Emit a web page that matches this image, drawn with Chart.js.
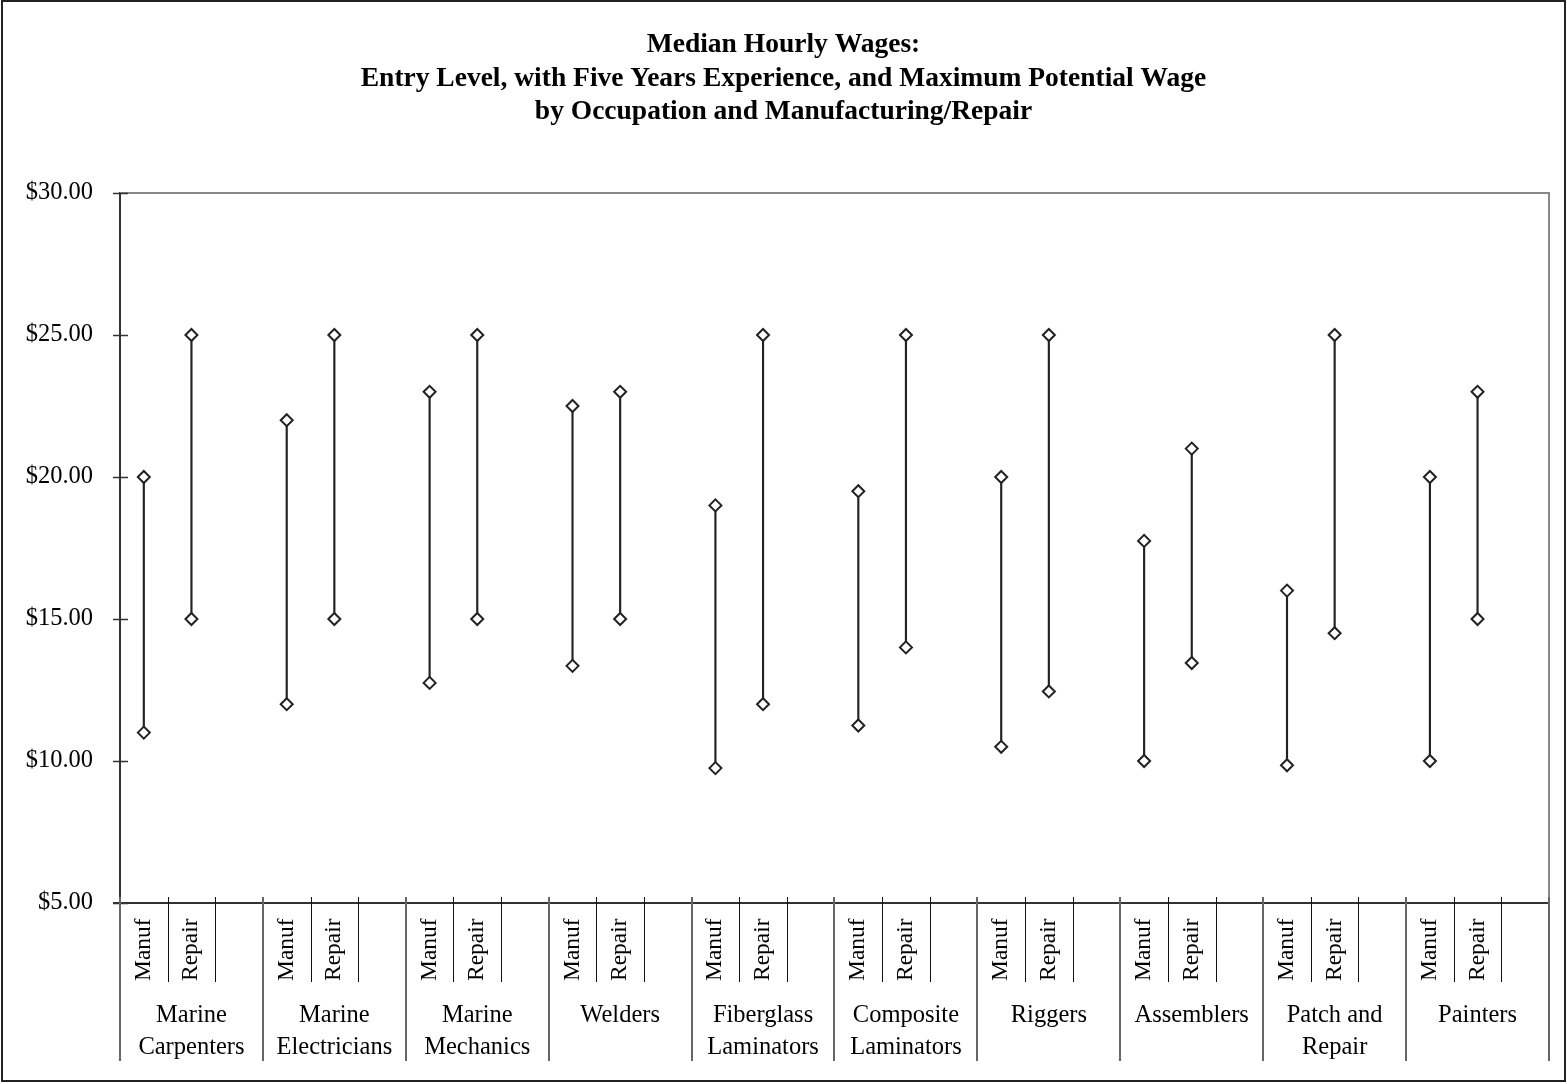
<!DOCTYPE html>
<html>
<head>
<meta charset="utf-8">
<title>Median Hourly Wages</title>
<script src="https://cdn.jsdelivr.net/npm/chart.js@4.4.1/dist/chart.umd.min.js"></script>
<style>
  html, body { margin: 0; padding: 0; background: #fff; }
  #wrap { width: 1567px; height: 1084px; position: relative; }
</style>
</head>
<body>
<div id="wrap"><canvas id="c" width="1567" height="1084"></canvas></div>
<script>
// Occupations (group labels, one entry per line of text)
const occupations = [
  ['Marine', 'Carpenters'],
  ['Marine', 'Electricians'],
  ['Marine', 'Mechanics'],
  ['Welders'],
  ['Fiberglass', 'Laminators'],
  ['Composite', 'Laminators'],
  ['Riggers'],
  ['Assemblers'],
  ['Patch and', 'Repair'],
  ['Painters']
];
const sectors = ['Manuf', 'Repair'];

// Hourly wage ranges ($), low end and high end, per occupation
const manufLow   = [11.00, 12.00, 12.75, 13.35,  9.75, 11.25, 10.50, 10.00,  9.85, 10.00];
const manufHigh  = [20.00, 22.00, 23.00, 22.50, 19.00, 19.50, 20.00, 17.75, 16.00, 20.00];
const repairLow  = [15.00, 15.00, 15.00, 15.00, 12.00, 14.00, 12.45, 13.45, 14.50, 15.00];
const repairHigh = [25.00, 25.00, 25.00, 23.00, 25.00, 25.00, 25.00, 21.00, 25.00, 23.00];

const titleLines = [
  'Median Hourly Wages:',
  'Entry Level, with Five Years Experience, and Maximum Potential Wage',
  'by Occupation and Manufacturing/Repair'
];
const yTicks = [5, 10, 15, 20, 25, 30];

// Each occupation takes three slots: Manuf, Repair, and an empty spacer
const slotLabels = [];
const ranges = [], lows = [], highs = [];
occupations.forEach((occ, i) => {
  const lo = [manufLow[i], repairLow[i]];
  const hi = [manufHigh[i], repairHigh[i]];
  sectors.forEach((s, j) => {
    slotLabels.push(s);
    ranges.push([lo[j], hi[j]]);
    lows.push(lo[j]);
    highs.push(hi[j]);
  });
  slotLabels.push('');
  ranges.push(null);
  lows.push(null);
  highs.push(null);
});

const SERIF = '"Liberation Serif", "Times New Roman", serif';

const decorations = {
  id: 'decorations',
  afterDraw(chart) {
    const ctx = chart.ctx;
    const area = chart.chartArea;
    const xs = chart.scales.x;
    const ys = chart.scales.y;
    ctx.save();

    // Title
    ctx.fillStyle = '#000';
    ctx.font = 'bold 27.5px ' + SERIF;
    ctx.textAlign = 'center';
    ctx.textBaseline = 'middle';
    titleLines.forEach((t, i) => ctx.fillText(t, chart.width / 2, 45 + i * 33.5));

    // Plot area frame: top and right edges
    ctx.strokeStyle = '#888';
    ctx.lineWidth = 2;
    ctx.beginPath();
    ctx.moveTo(area.left, area.top);
    ctx.lineTo(area.right, area.top);
    ctx.lineTo(area.right, area.bottom);
    ctx.stroke();

    // Value-axis tick marks crossing the axis
    ctx.strokeStyle = '#333';
    ctx.lineWidth = 1.5;
    yTicks.forEach(v => {
      const y = Math.round(ys.getPixelForValue(v)) + 0.5;
      ctx.beginPath();
      ctx.moveTo(area.left - 7, y);
      ctx.lineTo(area.left + 8, y);
      ctx.stroke();
    });

    // Category axis line
    ctx.strokeStyle = '#333';
    ctx.lineWidth = 2;
    ctx.beginPath();
    ctx.moveTo(area.left - 7, area.bottom);
    ctx.lineTo(area.right, area.bottom);
    ctx.stroke();

    // Slot separators: short ones inside groups, long ones between groups
    const slotW = xs.getPixelForValue(1) - xs.getPixelForValue(0);
    const n = slotLabels.length;
    for (let k = 0; k <= n; k++) {
      const x = Math.round(xs.getPixelForValue(0) - slotW / 2 + k * slotW);
      const group = (k % 3 === 0);
      ctx.beginPath();
      if (group) {
        ctx.strokeStyle = '#666';
        ctx.lineWidth = 2;
        ctx.moveTo(x, area.bottom - 6);
        ctx.lineTo(x, 1061);
      } else {
        ctx.strokeStyle = '#111';
        ctx.lineWidth = 1;
        ctx.moveTo(x + 0.5, area.bottom - 6);
        ctx.lineTo(x + 0.5, 982);
      }
      ctx.stroke();
    }

    // Sector labels, rotated
    ctx.fillStyle = '#000';
    ctx.font = '23.5px ' + SERIF;
    ctx.textAlign = 'left';
    ctx.textBaseline = 'alphabetic';
    slotLabels.forEach((lab, i) => {
      if (!lab) return;
      const x = xs.getPixelForValue(i);
      ctx.save();
      ctx.translate(x + 6, 981);
      ctx.rotate(-Math.PI / 2);
      ctx.fillText(lab, 0, 0);
      ctx.restore();
    });

    // Occupation labels
    ctx.font = '24.5px ' + SERIF;
    ctx.textAlign = 'center';
    ctx.textBaseline = 'middle';
    occupations.forEach((lines, g) => {
      const cx = xs.getPixelForValue(g * 3 + 1);
      lines.forEach((t, li) => ctx.fillText(t, cx, 1016 + li * 32));
    });

    // Outer frame
    ctx.strokeStyle = '#222';
    ctx.lineWidth = 2;
    ctx.strokeRect(2, 1, 1563, 1080);

    ctx.restore();
  }
};

const diamond = {
  type: 'line',
  showLine: false,
  pointStyle: 'rectRot',
  pointRadius: 6,
  pointBorderWidth: 2,
  pointBorderColor: '#222',
  pointBackgroundColor: '#fff'
};

new Chart(document.getElementById('c'), {
  data: {
    labels: slotLabels,
    datasets: [
      { ...diamond, label: 'Low', data: lows, order: 0 },
      { ...diamond, label: 'High', data: highs, order: 0 },
      {
        type: 'bar',
        label: 'Range',
        data: ranges,
        backgroundColor: '#222',
        borderWidth: 0,
        barThickness: 1.5,
        order: 1
      }
    ]
  },
  options: {
    responsive: false,
    devicePixelRatio: 1,
    animation: false,
    events: [],
    layout: { padding: { top: 193, right: 18, bottom: 0, left: 0 } },
    plugins: {
      legend: { display: false },
      tooltip: { enabled: false },
      title: { display: false }
    },
    scales: {
      x: {
        type: 'category',
        offset: true,
        grid: { display: false },
        border: { display: false },
        ticks: { display: false },
        afterFit(scale) { scale.height = 181; }
      },
      y: {
        min: 5,
        max: 30,
        afterBuildTicks(scale) { scale.ticks = yTicks.map(v => ({ value: v })); },
        grid: { display: false, drawTicks: false },
        border: { display: true, color: '#333', width: 2 },
        ticks: {
          color: '#000',
          padding: 27,
          font: { family: SERIF, size: 24.5 },
          callback: v => '$' + Number(v).toFixed(2)
        },
        afterFit(scale) { scale.width = 120; }
      }
    }
  },
  plugins: [decorations]
});
</script>
</body>
</html>
